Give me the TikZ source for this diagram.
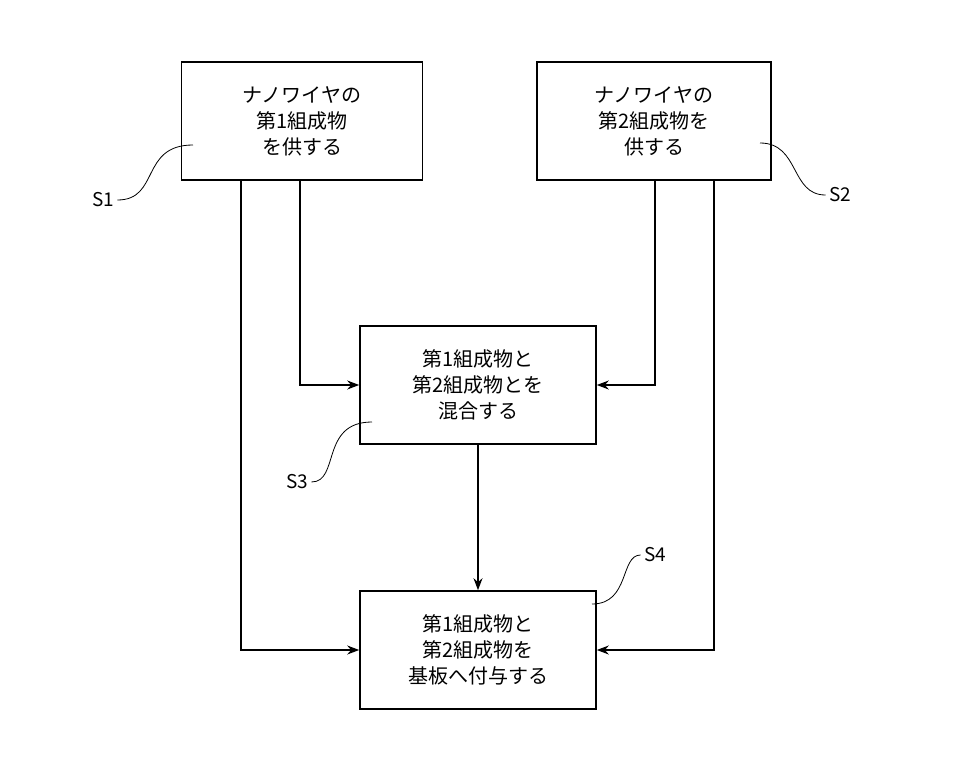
\documentclass[tikz,border=0pt]{standalone}
\usepackage{fontspec}
\setmainfont{Noto Sans CJK JP}
\usetikzlibrary{arrows.meta}
\tikzset{
    step-box/.style = {draw, line width=1.6pt, rectangle, align=center, minimum width=236pt, minimum height=118pt, font=\fontsize{20}{26}\selectfont},
    flow/.style = {line width=1.4pt, -{Stealth[length=12pt,width=9pt]}},
    tag/.style = {font=\fontsize{19}{22}\selectfont},
    leader/.style = {line width=0.8pt},
}
\begin{document}
\begin{tikzpicture}[x=1pt,y=-1pt]
\useasboundingbox (0,0) rectangle (969,768);
\node[step-box, minimum width=241pt] (s1) at (302,121) {ナノワイヤの\\第1組成物\\を供する};
\node[step-box, minimum width=234pt] (s2) at (654,121) {ナノワイヤの\\第2組成物を\\供する};
\node[step-box] (s3) at (478,385) {第1組成物と\\第2組成物とを\\混合する};
\node[step-box] (s4) at (478,650) {第1組成物と\\第2組成物を\\基板へ付与する};
% connectors
\draw[flow] (s1.south -| 300,0) |- (s3.west);
\draw[flow] (s1.south -| 241,0) |- (s4.west);
\draw[flow] (s2.south -| 655,0) |- (s3.east);
\draw[flow] (s2.south -| 714,0) |- (s4.east);
\draw[flow] (s3) -- (s4);
% step labels
\node[tag] (t1) at (103,200) {S1};
\node[tag] (t2) at (840,195) {S2};
\node[tag] (t3) at (297,482) {S3};
\node[tag] (t4) at (655,555) {S4};
\coordinate (p1) at (193,145);
\coordinate (p2) at (760,143);
\coordinate (p3) at (372,422);
\coordinate (p4) at (592,604);
\draw[leader] (t1.east) .. controls (160,200) and (140,145) .. (p1);
\draw[leader] (t2.west) .. controls (790,195) and (800,143) .. (p2);
\draw[leader] (t3.east) .. controls (340,482) and (320,422) .. (p3);
\draw[leader] (t4.west) .. controls (620,555) and (630,604) .. (p4);
\end{tikzpicture}
\end{document}
